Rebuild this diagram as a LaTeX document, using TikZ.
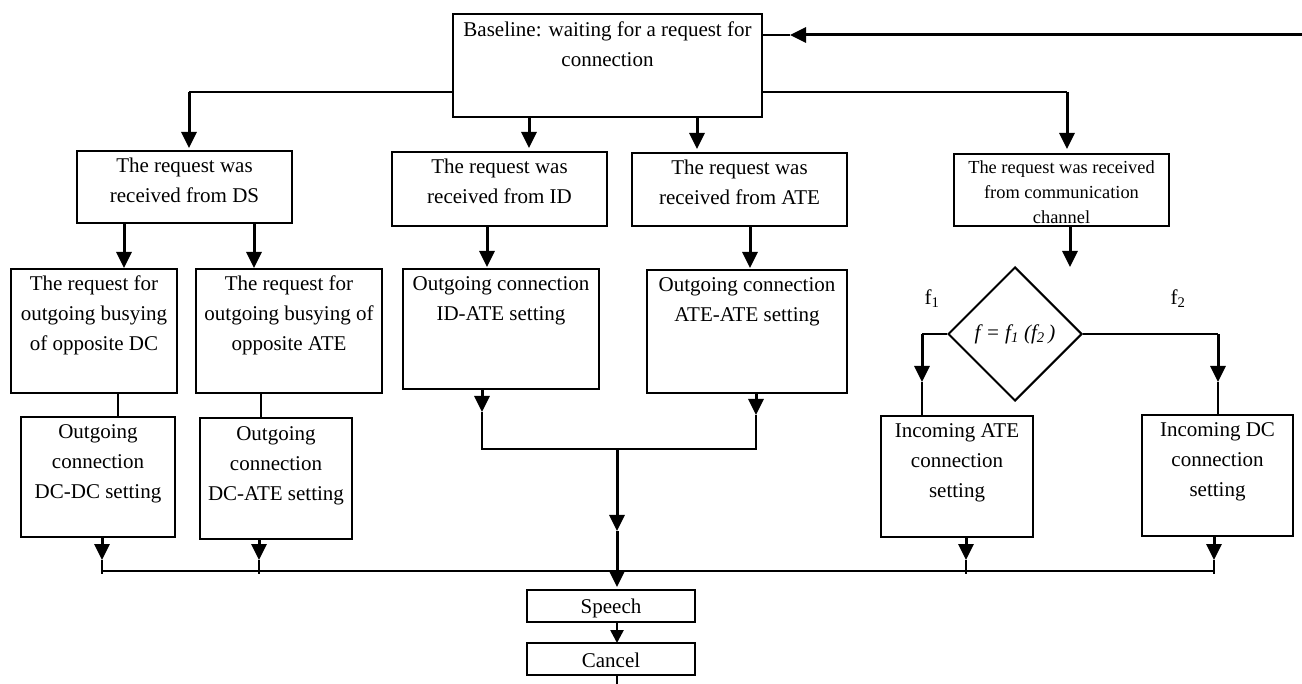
\documentclass[tikz,border=0pt]{standalone}
\usepackage{fontspec}
\setmainfont{Liberation Serif}
\usetikzlibrary{arrows.meta,calc,shapes.geometric}
\newcommand\mkbox[5]{\node[box, anchor=north west, minimum width={(#4)-(#2)}, minimum height={(#5)-(#3)}] (#1) at (#2,#3) {};}
\begin{document}
\begin{tikzpicture}[x=1pt,y=-1pt,
  box/.style={draw, line width=2pt, inner sep=0pt, outer sep=0pt},
  txt/.style={anchor=north, align=center, inner sep=0pt, font=\fontsize{21}{30}\selectfont},
  stxt/.style={txt, font=\fontsize{18.4}{25}\selectfont},
  conn/.style={line width=2pt},
  thk/.style={line width=3pt},
  arr/.style={line width=3pt, -{Triangle[length=16pt,width=15pt]}},
  sarr/.style={line width=2.6pt, -{Triangle[length=13pt,width=13pt]}},
  dia/.style={draw, diamond, shape aspect=1, line width=2pt, inner sep=0pt, minimum width=134pt, minimum height=134pt}]
\useasboundingbox (0,0) rectangle (1302,684);

% boxes
\mkbox{base}{453}{14}{762}{117}
\mkbox{ds}{77}{151}{292}{223}
\mkbox{id}{392}{152}{607}{226}
\mkbox{ate}{632}{153}{847}{226}
\mkbox{comm}{954}{154}{1169}{226}
\mkbox{dc}{11}{269}{177}{393}
\mkbox{dca}{196}{269}{382}{393}
\mkbox{ida}{403}{269}{599}{389}
\mkbox{aa}{647}{270}{847}{393}
\mkbox{dcdc}{21}{417}{175}{537}
\mkbox{dcate}{200}{418}{352}{539}
\mkbox{inate}{881}{416}{1033}{537}
\mkbox{indc}{1142}{415}{1293}{536}
\mkbox{speech}{527}{590}{695}{622}
\mkbox{cancel}{527}{643}{695}{675}

% texts
\node[txt] (base-t) at ($(base.north)+(0,8)$) {Baseline: waiting for a request for\\connection};
\node[txt] (ds-t) at ($(ds.north)+(0,7)$) {The request was\\received from DS};
\node[txt] (id-t) at ($(id.north)+(0,7)$) {The request was\\received from ID};
\node[txt] (ate-t) at ($(ate.north)+(0,7)$) {The request was\\received from ATE};
\node[stxt] (comm-t) at ($(comm.north)+(0,7)$) {The request was received\\from communication\\channel};
\node[txt] (dc-t) at ($(dc.north)+(0,7)$) {The request for\\outgoing busying\\of opposite DC};
\node[txt] (dca-t) at ($(dca.north)+(0,7)$) {The request for\\outgoing busying of\\opposite ATE};
\node[txt] (ida-t) at ($(ida.north)+(0,7)$) {Outgoing connection\\ID-ATE setting};
\node[txt] (aa-t) at ($(aa.north)+(0,7)$) {Outgoing connection\\ATE-ATE setting};
\node[txt] (dcdc-t) at ($(dcdc.north)+(0,7)$) {Outgoing\\connection\\DC-DC setting};
\node[txt] (dcate-t) at ($(dcate.north)+(0,8)$) {Outgoing\\connection\\DC-ATE setting};
\node[txt] (inate-t) at ($(inate.north)+(0,7)$) {Incoming ATE\\connection\\setting};
\node[txt] (indc-t) at ($(indc.north)+(0,7)$) {Incoming DC\\connection\\setting};
\node[txt, anchor=center] (speech-t) at ($(speech.center)+(0,2)$) {Speech};
\node[txt, anchor=center] (cancel-t) at ($(cancel.center)+(0,1)$) {Cancel};

% decision
\node[dia, font=\fontsize{21}{30}\selectfont] (dec) at (1015,334) {\itshape f = f\textsubscript{1} (f\textsubscript{2}\,)};
\node[txt, anchor=center] (lf1) at (932,299) {f\textsubscript{1}};
\node[txt, anchor=center] (lf2) at (1178,299) {f\textsubscript{2}};

% feedback
\coordinate (fbR) at (1302,35);
\coordinate (fbT) at (790,35);
\draw[arr] (fbR) -- (fbT);
\draw[conn] (fbT) -- (base.east |- fbT);

% baseline branches
\coordinate (dsin) at (189,92);
\draw[conn] (base.west |- dsin) -- (dsin);
\draw[arr, shorten >=3pt] (dsin) -- (dsin |- ds.north);
\coordinate (cmin) at (1067,92);
\draw[conn] (base.east |- cmin) -- (cmin);
\draw[arr, shorten >=5pt] (cmin) -- (cmin |- comm.north);
\coordinate (xid) at (529,0);
\coordinate (xate) at (697,0);
\draw[arr, shorten >=4pt] (base.south -| xid) -- (id.north -| xid);
\draw[arr, shorten >=4pt] (base.south -| xate) -- (ate.north -| xate);

% DS branch
\coordinate (xdc) at (124,0);
\coordinate (xdca) at (254,0);
\draw[arr, shorten >=1pt] (ds.south -| xdc) -- (dc.north -| xdc);
\draw[arr, shorten >=1pt] (ds.south -| xdca) -- (dca.north -| xdca);
\coordinate (xl1) at (118,0);
\coordinate (xl2) at (261,0);
\draw[conn] (dc.south -| xl1) -- (dcdc.north -| xl1);
\draw[conn] (dca.south -| xl2) -- (dcate.north -| xl2);

% ID / ATE
\coordinate (xida) at (487,0);
\coordinate (xaa) at (750,0);
\draw[arr, shorten >=2pt] (id.south -| xida) -- (ida.north -| xida);
\draw[arr, shorten >=2pt] (ate.south -| xaa) -- (aa.north -| xaa);

% communication channel
\coordinate (cmd) at (1070,267);
\draw[arr] (comm.south -| cmd) -- (cmd);
\coordinate (lA) at (922,382);
\draw[conn] (dec.west) -- (dec.west -| lA);
\draw[arr] (dec.west -| lA) -- (lA);
\draw[conn] (lA) -- (inate.north -| lA);
\coordinate (rA) at (1218,382);
\draw[conn] (dec.east) -- (dec.east -| rA);
\draw[arr] (dec.east -| rA) -- (rA);
\draw[conn] (rA) -- (indc.north -| rA);

% bottom collector
\coordinate (bl) at (102,571);
\coordinate (br) at (1214,571);
\draw[conn] (bl) -- (br);
\coordinate (t1) at (102,560);
\coordinate (t2) at (259,560);
\coordinate (t3) at (966,560);
\coordinate (t4) at (1214,560);
\draw[arr] (dcdc.south -| t1) -- (t1);
\draw[arr] (dcate.south -| t2) -- (t2);
\draw[arr] (inate.south -| t3) -- (t3);
\draw[arr] (indc.south -| t4) -- (t4);
\draw[conn] (t1) -- ++(0,14);
\draw[conn] (t2) -- ++(0,14);
\draw[conn] (t3) -- ++(0,14);
\draw[conn] (t4) -- ++(0,14);

% middle collector
\coordinate (m1) at (482,412);
\coordinate (m2) at (756,415);
\coordinate (ml) at (482,449);
\coordinate (mr) at (756,449);
\coordinate (mc) at (617,449);
\draw[arr] (ida.south -| m1) -- (m1);
\draw[arr] (aa.south -| m2) -- (m2);
\draw[conn] (m1) -- (ml) -- (mr) -- (m2);
\coordinate (mA) at (617,531);
\coordinate (mB) at (617,571);
\draw[arr] (mc) -- (mA);
\draw[thk] (mA) -- (mB);
\draw[arr, shorten >=3pt] (mB) -- (speech.north -| mB);
\draw[sarr] (speech.south -| mB) -- (cancel.north -| mB);
\coordinate (endp) at (617,684);
\draw[conn] (cancel.south -| endp) -- (endp);
\end{tikzpicture}
\end{document}
